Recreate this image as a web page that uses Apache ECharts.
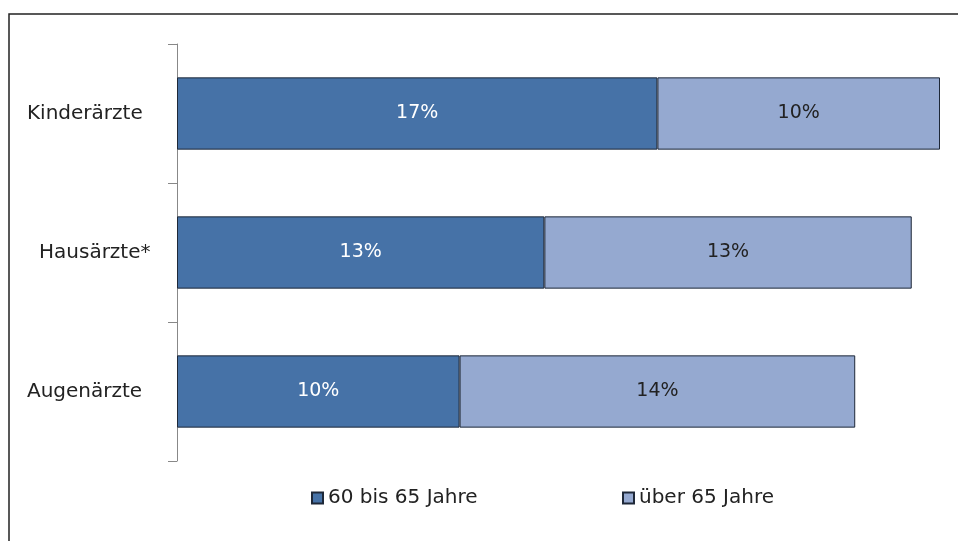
<!DOCTYPE html>
<html>
<head>
<meta charset="utf-8">
<script src="https://cdn.jsdelivr.net/npm/echarts@6/dist/echarts.min.js"></script>
<style>
  html, body { margin: 0; padding: 0; background: #fff; }
  #chart { width: 958px; height: 541px; }
</style>
</head>
<body>
<div id="chart"></div>
<script>
const categories = ['Kinderärzte', 'Hausärzte*', 'Augenärzte'];
const seriesNames = ['60 bis 65 Jahre', 'über 65 Jahre'];
const age60to65 = [17, 13, 10];
const over65 = [10, 13, 14];

const darkBlue = '#4672a7';
const lightBlue = '#95a9d0';
const font = 'DejaVu Sans, Arial, sans-serif';

const chart = echarts.init(document.getElementById('chart'));

const option = {
  animation: false,
  backgroundColor: '#fff',
  textStyle: { fontFamily: font },
  graphic: [
    {
      type: 'rect',
      shape: { x: 9, y: 14, width: 960, height: 540 },
      style: { fill: 'none', stroke: '#222', lineWidth: 1.5 }
    }
  ],
  grid: { left: 177, right: 18, top: 44, bottom: 80 },
  legend: [
    {
      data: [seriesNames[0]],
      left: 311, top: 488, padding: 0,
      icon: 'rect', itemWidth: 11, itemHeight: 11, itemGap: 4,
      textStyle: { fontSize: 20, color: '#222', fontFamily: font }
    },
    {
      data: [seriesNames[1]],
      left: 622, top: 488, padding: 0,
      icon: 'rect', itemWidth: 11, itemHeight: 11, itemGap: 4,
      textStyle: { fontSize: 20, color: '#222', fontFamily: font }
    }
  ],
  xAxis: { type: 'value', min: 0, max: 27, show: false },
  yAxis: {
    type: 'category',
    inverse: true,
    data: categories,
    axisLine: { show: true, lineStyle: { color: '#888', width: 1 } },
    axisTick: { show: true, length: 9, lineStyle: { color: '#888', width: 1 } },
    axisLabel: {
      align: 'left',
      margin: 150,
      fontSize: 20,
      color: '#222',
      fontFamily: font,
      formatter: v => v === 'Hausärzte*' ? '{h|' + v + '}' : v,
      rich: { h: { fontSize: 20, color: '#222', fontFamily: font, padding: [0, 0, 0, 12] } }
    }
  },
  series: [
    {
      name: seriesNames[0],
      type: 'bar',
      stack: 'total',
      barWidth: '52%',
      data: age60to65,
      itemStyle: { color: darkBlue, borderColor: '#1e2838', borderWidth: 1 },
      label: { show: true, position: 'inside', formatter: '{c}%', color: '#fff', fontSize: 19, fontFamily: font }
    },
    {
      name: seriesNames[1],
      type: 'bar',
      stack: 'total',
      barWidth: '52%',
      data: over65,
      itemStyle: { color: lightBlue, borderColor: '#1e2838', borderWidth: 1 },
      label: { show: true, position: 'inside', formatter: '{c}%', color: '#222', fontSize: 19, fontFamily: font }
    }
  ]
};

chart.setOption(option);
</script>
</body>
</html>
